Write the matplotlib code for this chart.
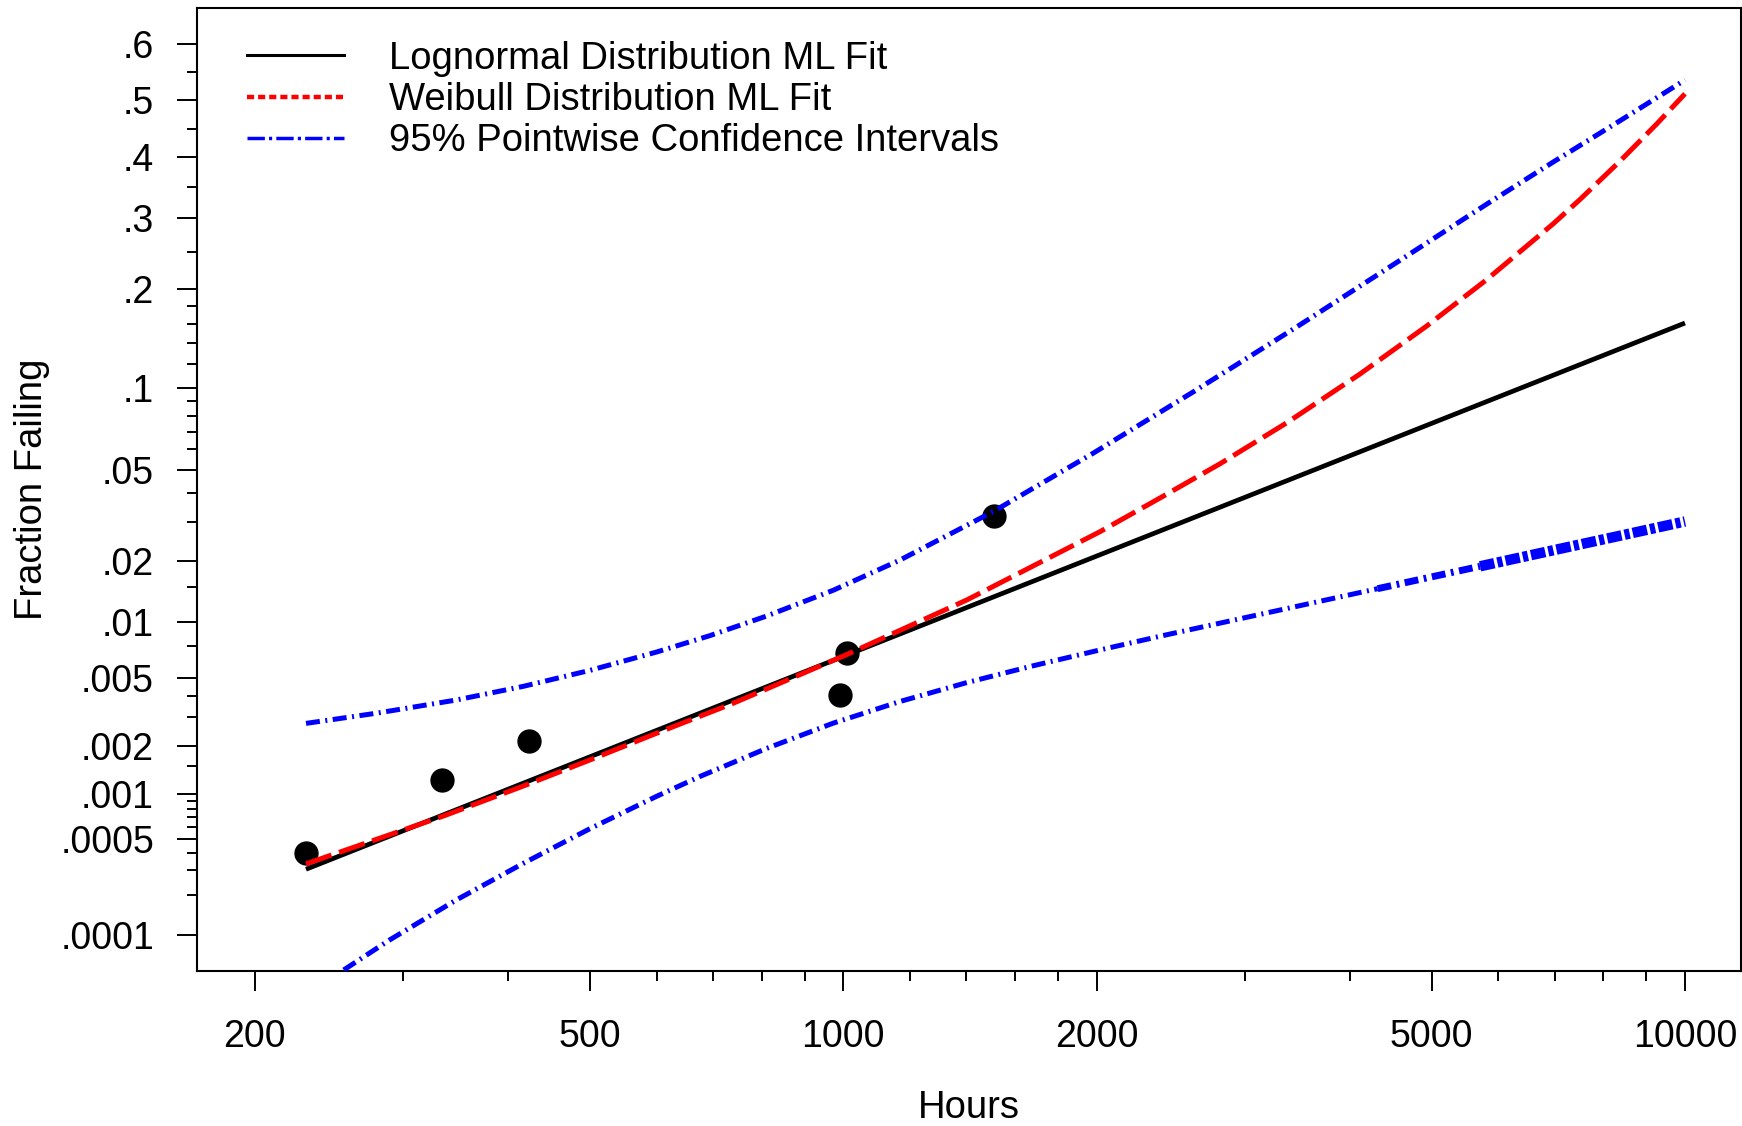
import numpy as np
import matplotlib
matplotlib.use("Agg")
import matplotlib.pyplot as plt
from matplotlib.lines import Line2D
from matplotlib.ticker import FixedLocator, NullFormatter
from statistics import NormalDist

plt.rcParams["font.family"] = ["Liberation Sans", "DejaVu Sans"]

# failure times and nonparametric plotting positions
fail_hours = [230, 334, 423, 990, 1009, 1510]
fail_frac = [0.000397, 0.00122, 0.00216, 0.00403, 0.00688, 0.0320]

# lognormal ML fit (straight on lognormal paper, so two ends are enough)
logn_hours = [230, 10000]
logn_frac = [0.000306, 0.1606]

# weibull ML fit
weib_hours = [230, 279, 335, 417, 500, 600, 740, 1007, 1402, 2018, 2378, 2803, 3364, 4111, 4934,
              5814, 6976, 7503, 8373, 9254, 10000]
weib_frac = [0.000334, 0.000496, 0.000714, 0.001125, 0.001645, 0.00240, 0.00361, 0.00673, 0.0130,
             0.0273, 0.0382, 0.0527, 0.0754, 0.1114, 0.1574, 0.2123, 0.2914, 0.3294, 0.3935,
             0.4581, 0.5118]

# 95% pointwise confidence bands
ci_up_hours = [230, 279, 347, 417, 500, 600, 694, 811, 973, 1168, 1507, 1982, 2605, 3424, 4501,
               5814, 6976, 8373, 10000]
ci_up_frac = [0.00275, 0.00316, 0.00377, 0.004515, 0.005544, 0.00698, 0.00853, 0.01079, 0.01452,
              0.02027, 0.03345, 0.058, 0.097, 0.154, 0.232, 0.322, 0.392, 0.464, 0.5363]

ci_lo_hours = [255, 289, 347, 417, 500, 600, 676, 811, 973, 1168, 1402, 1682, 2018, 2423, 2818,
               4313, 5709, 6976, 8373, 10000]
ci_lo_frac = [5.33e-5, 9.14e-5, 1.833e-4, 3.376e-4, 5.86e-4, 9.63e-4, 0.001296, 0.001941, 0.002759,
              0.003697, 0.004738, 0.00588, 0.007165, 0.00863, 0.00997, 0.01478, 0.01894, 0.0225,
              0.0262, 0.0303]

legend_labels = ["Lognormal Distribution ML Fit", "Weibull Distribution ML Fit",
                 "95% Pointwise Confidence Intervals"]

x_major = [200, 500, 1000, 2000, 5000, 10000]
x_minor = [300, 400, 600, 700, 800, 900, 1200, 1400, 1600, 1800, 3000, 4000, 6000, 7000, 8000, 9000]
y_major = [0.6, 0.5, 0.4, 0.3, 0.2, 0.1, 0.05, 0.02, 0.01, 0.005, 0.002, 0.001, 0.0005, 0.0001]
y_major_labels = [".6", ".5", ".4", ".3", ".2", ".1", ".05", ".02", ".01", ".005", ".002", ".001",
                  ".0005", ".0001"]
y_minor = [0.55, 0.45, 0.35, 0.25, 0.18, 0.16, 0.14, 0.12, 0.09, 0.08, 0.07, 0.06, 0.04, 0.03,
           0.015, 0.0075, 0.004, 0.003, 0.0015, 0.0009, 0.0008, 0.0007, 0.0006, 0.0004, 0.0003, 0.0002]

_nd = NormalDist()


def _probit_one(v):
    if not np.isfinite(v):
        return np.nan
    return _nd.inv_cdf(min(max(v, 1e-15), 1 - 1e-15))


def _cdf_one(v):
    if not np.isfinite(v):
        return np.nan
    return _nd.cdf(v)


probit = np.vectorize(_probit_one, otypes=[float])
inv_probit = np.vectorize(_cdf_one, otypes=[float])

W, H = 1742, 1126
fig = plt.figure(figsize=(W / 100, H / 100), dpi=100)
ax = fig.add_axes([197 / W, 1 - 971 / H, (1740.5 - 197) / W, (971 - 7.5) / H])
ax.set_xscale("log")
ax.set_yscale("function", functions=(probit, inv_probit))

blue_dash = (2.8, 1.1, 0.4, 1.1)

ax.plot(fail_hours, fail_frac, "o", color="black", ms=16.5, zorder=2)
ax.plot(logn_hours, logn_frac, color="black", lw=3.4, solid_capstyle="butt", zorder=3)
ax.plot(weib_hours, weib_frac, color="red", lw=3.6, dashes=(5.4, 1.6), zorder=4)
ax.plot(ci_up_hours, ci_up_frac, color="blue", lw=3.6, dashes=blue_dash, zorder=5)

# lower band gets heavy near the right end in the original
i1 = ci_lo_hours.index(4313)
i2 = ci_lo_hours.index(5709)
ax.plot(ci_lo_hours[:i1 + 1], ci_lo_frac[:i1 + 1], color="blue", lw=3.6, dashes=blue_dash, zorder=5)
ax.plot(ci_lo_hours[i1:i2 + 1], ci_lo_frac[i1:i2 + 1], color="blue", lw=5.0, dashes=(2.0, 0.8, 0.4, 0.8), zorder=5)
ax.plot(ci_lo_hours[i2:], ci_lo_frac[i2:], color="blue", lw=7.5, dashes=(1.4, 0.3, 0.5, 0.3), zorder=5)

ax.set_xlim(170.7, 11640)
ax.set_ylim(5.23e-5, 0.6606)

ax.set_xticks(x_major)
ax.set_xticklabels([str(v) for v in x_major])
ax.xaxis.set_minor_locator(FixedLocator(x_minor))
ax.xaxis.set_minor_formatter(NullFormatter())
ax.set_yticks(y_major)
ax.set_yticklabels(y_major_labels)
ax.yaxis.set_minor_locator(FixedLocator(y_minor))
ax.yaxis.set_minor_formatter(NullFormatter())

ax.tick_params(which="both", direction="out", width=1.4, colors="black", labelsize=27)
ax.tick_params(which="major", length=14.4)
ax.tick_params(which="minor", length=7.2)
ax.tick_params(axis="x", which="major", pad=20.5)
ax.tick_params(axis="y", which="major", pad=16.5)
for sp in ax.spines.values():
    sp.set_linewidth(1.5)

ax.set_xlabel("Hours", fontsize=27.5)
ax.xaxis.set_label_coords(0.5, -(1089.5 - 971) / 963.5)
ax.set_ylabel("Fraction Failing", fontsize=27.5)
ax.yaxis.label.set_va("center")
ax.yaxis.set_label_coords((32 - 197) / 1543.5, 0.5)

handles = [
    Line2D([], [], color="black", lw=2.2),
    Line2D([], [], color="red", lw=3.2, dashes=(1.6, 0.9)),
    Line2D([], [], color="blue", lw=2.5, dashes=(5.0, 1.2, 0.9, 1.2)),
]
ax.legend(handles, legend_labels, loc="upper left", bbox_to_anchor=(0.0324, 0.9655),
          frameon=False, fontsize=27.5, handlelength=2.54, handletextpad=1.17,
          labelspacing=0.135, borderpad=0, borderaxespad=0)

fig.savefig("out.png", dpi=100)
